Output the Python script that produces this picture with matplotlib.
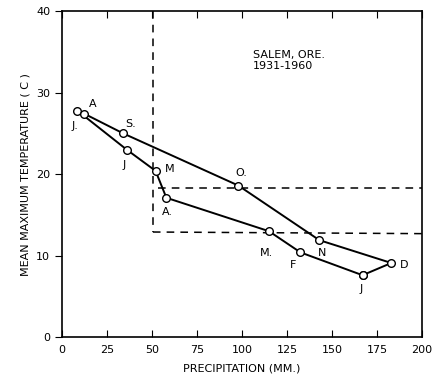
# Salem, Ore. climograph (1931-1960)
import matplotlib
matplotlib.use('Agg')
import matplotlib.pyplot as plt

# monthly values, in order Jan..Dec
months = ['J', 'F', 'M.', 'A.', 'M', 'J', 'J.', 'A', 'S.', 'O.', 'N', 'D']
precip = [167, 132.5, 115, 58, 52, 36, 8.5, 12.5, 34, 98, 143, 183]
temp = [7.6, 10.4, 13.0, 17.1, 20.4, 23.0, 27.8, 27.4, 25.0, 18.6, 11.9, 9.1]

# label offsets (points) for each month letter
offsets = [(-1, -10), (-5, -9), (-2, -16), (1, -10), (10, 1.5), (-2, -11),
           (-2, -11), (6, 7), (5, 7), (2, 9), (2, -9), (9, -1.5)]

# dashed guide lines
v_x = 50.5
low_y = 12.9
high_y = 18.3
high_x0 = 53.5

fig = plt.figure(figsize=(4.46, 3.84), dpi=100)
ax = fig.add_axes([0.139, 0.122, 0.807, 0.849])

ax.plot(precip + [precip[0]], temp + [temp[0]], color='black', lw=1.4,
        marker='o', markersize=5.5, markerfacecolor='white',
        markeredgecolor='black', markeredgewidth=1.0, zorder=3)

for m, x, y, off in zip(months, precip, temp, offsets):
    ax.annotate(m, (x, y), xytext=off, textcoords='offset points',
                ha='center', va='center', fontsize=8)

ax.plot([v_x, v_x], [40, low_y], ls='--', color='black', lw=1.1, dashes=(5, 4))
ax.plot([v_x, 200], [low_y, low_y - 0.2], ls='--', color='black', lw=1.1, dashes=(5, 4))
ax.plot([high_x0, 200], [high_y, high_y], ls='--', color='black', lw=1.1, dashes=(5, 4))

ax.text(106, 35.2, 'SALEM, ORE.\n1931-1960', fontsize=8, va='top', ha='left',
        linespacing=1.1)

ax.set_xlim(0, 200)
ax.set_ylim(0, 40)
ax.set_xticks(range(0, 201, 25))
ax.set_yticks(range(0, 41, 10))
ax.tick_params(axis='x', direction='in', top=True, length=5, labelsize=8, pad=6)
ax.tick_params(axis='y', direction='out', length=5, labelsize=8)
for s in ax.spines.values():
    s.set_linewidth(1.2)

ax.set_xlabel('PRECIPITATION (MM.)', fontsize=8, labelpad=6)
ax.set_ylabel('MEAN MAXIMUM TEMPERATURE ( C )', fontsize=8, labelpad=4)

fig.savefig('out.png', dpi=100)
